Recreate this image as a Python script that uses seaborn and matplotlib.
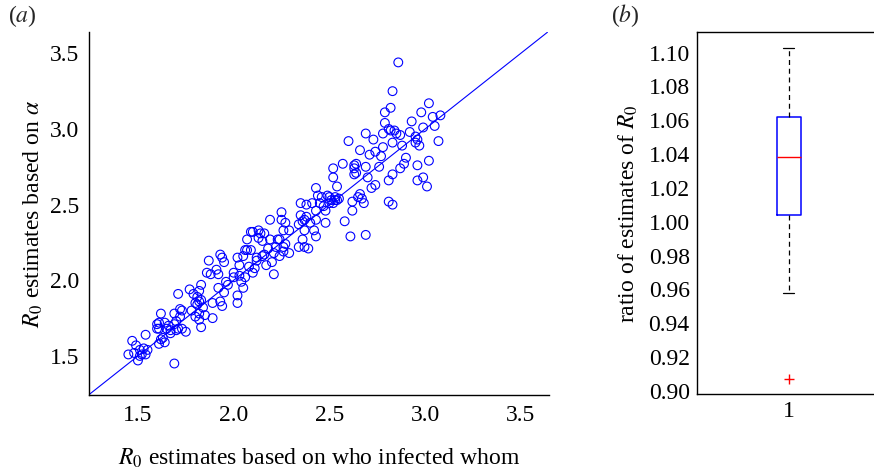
import matplotlib
matplotlib.use('Agg')
import numpy as np
import seaborn as sns
import matplotlib.pyplot as plt

# R0 estimates: who-infected-whom (x) vs alpha-based (y)
x_who = [
    1.45, 1.47, 1.48, 1.49, 1.50, 1.51, 1.52, 1.53, 1.54, 1.54, 1.55, 1.51,
    1.69, 1.61, 1.62, 1.63, 1.64, 1.61, 1.61, 1.62, 1.64, 1.65, 1.66, 1.67, 1.67,
    1.69, 1.69, 1.70, 1.71, 1.71, 1.72, 1.73, 1.73, 1.75, 1.72, 1.60, 1.60, 1.70,
    1.77, 1.78, 1.79, 1.80, 1.81, 1.81, 1.82, 1.82, 1.82, 1.83, 1.83, 1.84, 1.85,
    1.86, 1.87, 1.88, 1.89, 1.89, 1.80, 1.82, 1.83,
    1.91, 1.92, 1.93, 1.92, 1.93, 1.94, 1.94, 1.95, 1.96, 1.97, 1.95, 2.00, 2.00,
    2.02, 2.02, 2.02, 2.03, 2.03, 2.04, 2.05, 2.05, 2.06,
    2.07, 2.07, 2.08, 2.09, 2.09, 2.10, 2.11, 2.12, 2.12, 2.13, 2.13, 2.14, 2.15,
    2.15, 2.16, 2.16, 2.17, 2.18, 2.19, 2.19, 2.10, 2.06,
    2.20, 2.21, 2.21, 2.22, 2.23, 2.24, 2.24, 2.25, 2.25, 2.26, 2.26, 2.26, 2.27,
    2.27, 2.29, 2.29,
    2.34, 2.34, 2.35, 2.35, 2.36, 2.36, 2.37, 2.37, 2.37, 2.38, 2.38, 2.39, 2.40,
    2.41, 2.42, 2.43, 2.43, 2.43, 2.43, 2.44, 2.45, 2.46, 2.47, 2.48, 2.48, 2.49,
    2.50, 2.50,
    2.51, 2.52, 2.52, 2.53, 2.53, 2.54, 2.55, 2.52, 2.54, 2.58, 2.57, 2.61, 2.60,
    2.62, 2.62, 2.63, 2.63, 2.63, 2.64, 2.64, 2.65, 2.66, 2.66, 2.67, 2.68, 2.69,
    2.69, 2.69,
    2.70, 2.71, 2.72, 2.73, 2.74, 2.74, 2.76, 2.77, 2.78, 2.78, 2.79, 2.79, 2.81,
    2.81, 2.81, 2.82, 2.82, 2.83, 2.83, 2.83, 2.83, 2.84, 2.85, 2.86, 2.87, 2.87,
    2.88, 2.89, 2.90, 2.92, 2.93, 2.95, 2.95, 2.96, 2.96, 2.96, 2.97, 2.98, 2.99,
    2.99, 3.01, 3.02, 3.02, 3.04, 3.05, 3.07, 3.08,
]
y_alpha = [
    1.51, 1.60, 1.52, 1.57, 1.47, 1.54, 1.51, 1.55, 1.51, 1.64, 1.54, 1.50,
    1.45, 1.58, 1.61, 1.62, 1.59, 1.68, 1.72, 1.78, 1.72, 1.68, 1.70, 1.67, 1.65,
    1.78, 1.71, 1.73, 1.68, 1.91, 1.81, 1.80, 1.68, 1.66, 1.76, 1.68, 1.71, 1.67,
    1.94, 1.80, 1.91, 1.76, 1.89, 1.84, 1.78, 1.86, 1.74, 1.97, 1.69, 1.82, 1.77,
    2.05, 2.13, 2.04, 1.85, 1.75, 1.85, 1.93, 1.87,
    2.07, 2.04, 2.17, 1.95, 1.86, 1.83, 2.15, 1.92, 1.99, 1.97, 2.12, 2.02, 2.05,
    1.90, 1.85, 2.15, 2.10, 2.03, 1.99, 2.16, 1.95, 2.02,
    2.20, 2.27, 2.09, 2.20, 2.32, 2.05, 2.08, 2.13, 2.15, 2.33, 2.28, 2.31, 2.26,
    2.16, 2.31, 2.17, 2.10, 2.21, 2.27, 2.40, 2.32, 2.20,
    2.12, 2.18, 2.04, 2.22, 2.27, 2.16, 2.27, 2.40, 2.45, 2.33, 2.22, 2.19, 2.38,
    2.24, 2.33, 2.18,
    2.37, 2.22, 2.51, 2.43, 2.39, 2.27, 2.22, 2.33, 2.40, 2.50, 2.42, 2.21, 2.38,
    2.51, 2.33, 2.40, 2.61, 2.29, 2.46, 2.56, 2.51, 2.55, 2.49, 2.38, 2.46, 2.56,
    2.55, 2.51,
    2.53, 2.74, 2.51, 2.53, 2.55, 2.53, 2.54, 2.68, 2.62, 2.39, 2.77, 2.29, 2.92,
    2.46, 2.52, 2.70, 2.74, 2.76, 2.77, 2.71, 2.55, 2.57, 2.86, 2.54, 2.51, 2.30,
    2.75, 2.97,
    2.68, 2.83, 2.61, 2.93, 2.63, 2.85, 2.75, 2.82, 2.88, 2.97, 3.11, 3.04, 3.00,
    2.66, 2.52, 3.14, 2.99, 2.70, 2.91, 3.25, 2.50, 2.99, 2.97, 3.44, 2.96, 2.74,
    2.89, 2.77, 2.81, 2.98, 3.05, 2.91, 2.95, 2.66, 2.76, 2.93, 2.89, 3.11, 3.01,
    2.68, 2.62, 3.17, 2.79, 3.08, 3.02, 2.92, 3.09,
]
r0_ticks = [1.5, 2.0, 2.5, 3.0, 3.5]

# box summary
ratio_med = 1.038
ratio_q1 = 1.004
ratio_q3 = 1.062
ratio_whislo = 0.958
ratio_whishi = 1.103
ratio_fliers = [0.907]
ratio_ticks = [0.90, 0.92, 0.94, 0.96, 0.98, 1.00, 1.02, 1.04, 1.06, 1.08, 1.10]

sns.set_theme(style='white')
plt.rcParams['font.family'] = ['Liberation Serif', 'DejaVu Serif']
plt.rcParams['mathtext.fontset'] = 'stix'

fig = plt.figure(figsize=(8.74, 4.7), dpi=100)
ax1 = fig.add_axes([0.1022, 0.1596, 0.5263, 0.7717])
ax2 = fig.add_axes([0.7971, 0.161, 0.2112, 0.7703])

# (a) scatter with identity line
sns.scatterplot(x=x_who, y=y_alpha, ax=ax1, marker='o', s=40,
                facecolor='none', edgecolor='blue', linewidth=0.8)
ax1.axline((1.0, 1.0), slope=1, color='blue', lw=0.8)
ax1.set_xlim(1.246, 3.649)
ax1.set_ylim(1.242, 3.639)
ax1.set_xticks(r0_ticks)
ax1.set_yticks(r0_ticks)
ax1.set_xticklabels([f'{t:.1f}' for t in r0_ticks])
ax1.set_yticklabels([f'{t:.1f}' for t in r0_ticks])
ax1.tick_params(direction='in', length=4, width=0.8, labelsize=17, pad=7,
                colors='black')
for side in ['top', 'right']:
    ax1.spines[side].set_visible(False)
for side in ['left', 'bottom']:
    ax1.spines[side].set_color('black')
    ax1.spines[side].set_linewidth(1.0)
ax1.set_xlabel(r'$R_0$ estimates based on who infected whom', fontsize=17,
               labelpad=15, color='black')
ax1.set_ylabel(r'$R_0$ estimates based on $\alpha$', fontsize=17,
               labelpad=4, color='black')

# (b) boxplot of the ratio
stats = [dict(med=ratio_med, q1=ratio_q1, q3=ratio_q3, whislo=ratio_whislo,
              whishi=ratio_whishi, fliers=ratio_fliers, label='1')]
ax2.bxp(stats, positions=[1], widths=0.13, capwidths=0.06,
        boxprops=dict(color='blue', lw=1.1),
        medianprops=dict(color='red', lw=1.0),
        whiskerprops=dict(color='black', lw=0.9, linestyle=(0, (4, 3))),
        capprops=dict(color='black', lw=0.9),
        flierprops=dict(marker='+', markeredgecolor='red', markersize=7,
                        markeredgewidth=1.0))
ax2.set_xlim(0.5, 1.5)
ax2.set_ylim(0.898, 1.112)
ax2.set_yticks(ratio_ticks)
ax2.set_yticklabels([f'{t:.2f}' for t in ratio_ticks])
ax2.tick_params(direction='in', length=3, width=0.8, labelsize=17, pad=5,
                colors='black')
for side in ax2.spines:
    ax2.spines[side].set_color('black')
    ax2.spines[side].set_linewidth(1.0)
ax2.spines['right'].set_visible(False)
ax2.set_ylabel(r'ratio of estimates of $R_0$', fontsize=17, labelpad=6,
               color='black')

fig.text(0.009, 0.953, r'($a$)', fontsize=17)
fig.text(0.699, 0.953, r'($b$)', fontsize=17)

fig.savefig('out.png', dpi=100)
